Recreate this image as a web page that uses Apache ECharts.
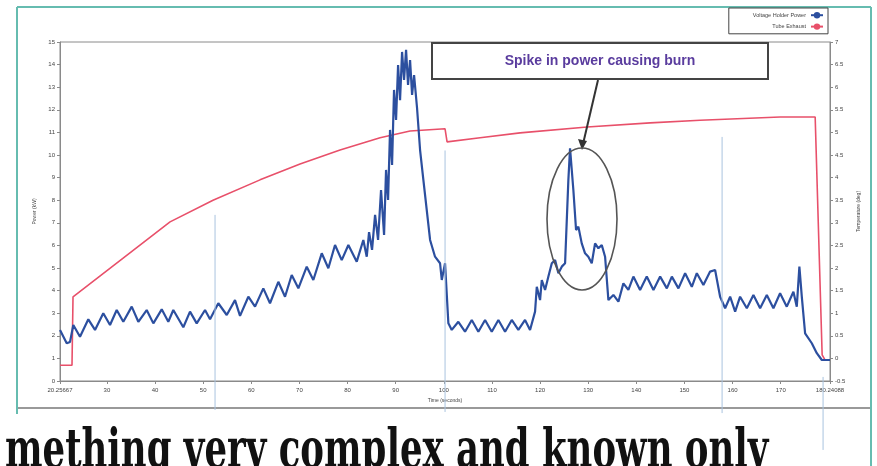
<!DOCTYPE html>
<html>
<head>
<meta charset="utf-8">
<script src="https://cdn.jsdelivr.net/npm/echarts@6/dist/echarts.min.js"></script>
<style>
  html, body { margin: 0; padding: 0; background: #fff; }
  #chart { width: 877px; height: 466px; }
</style>
</head>
<body>
<div id="chart"></div>
<script>
// time axis (seconds)
const xMin = 20.25667
const xMax = 180.24088
const xTicks = [20.25667, 30, 40, 50, 60, 70, 80, 90, 100, 110, 120, 130, 140, 150, 160, 170, 180.24088]

// power (kW), left axis
const powerTime = [
  20.26, 21.65, 22.34, 23.02, 24.41, 26.14, 27.53, 29.25, 30.65, 32.04, 33.41, 35.16, 36.53, 38.27, 39.65,
  41.39, 42.76, 43.80, 45.88, 47.27, 48.66, 50.39, 51.43, 53.15, 54.90, 56.62, 57.66, 59.39, 60.78,
  62.50, 63.89, 65.62, 67.01, 68.40, 69.78, 71.52, 72.89, 74.64, 76.01, 77.40, 78.79, 80.17, 81.91, 83.28, 83.99,
  84.47, 85.09, 85.72, 86.34, 86.96, 87.59, 88.00, 88.42, 88.83, 89.25, 89.66, 90.08, 90.50, 90.91,
  91.33, 91.74, 92.16, 92.57, 92.99, 93.41, 93.82, 94.44, 95.07, 95.76, 97.15, 98.18, 99.22, 99.58, 100.26, 100.95,
  101.65, 103.02, 104.41, 105.81, 107.18, 108.57, 109.96, 111.34, 112.73, 114.12, 115.49, 116.88, 117.92,
  118.96, 119.32, 120.00, 120.36, 121.04, 121.73, 122.44, 123.12, 123.81, 124.51, 125.20, 125.88, 126.23,
  126.92, 127.48, 127.96, 128.66, 129.35, 130.03, 130.74, 131.43, 132.12, 132.82, 133.51,
  134.20, 135.24, 136.28, 137.31, 138.35, 139.39, 140.78, 142.17, 143.56, 144.95, 146.34, 147.38, 148.75,
  150.14, 151.53, 152.57, 153.94, 155.33, 156.37, 157.41, 158.45, 159.49, 160.53, 161.56, 162.96, 164.33,
  165.72, 167.11, 168.48, 169.87, 171.26, 172.64, 173.34, 173.88, 174.38, 175.07, 176.46, 177.50, 178.54, 180.24
]
const powerKW = [
  2.26, 1.67, 1.73, 2.48, 1.96, 2.73, 2.26, 3.00, 2.48, 3.14, 2.62, 3.29, 2.62, 3.14, 2.55,
  3.17, 2.62, 3.14, 2.38, 3.07, 2.55, 3.14, 2.73, 3.44, 2.92, 3.58, 2.88, 3.73, 3.29,
  4.10, 3.44, 4.39, 3.73, 4.69, 4.10, 5.06, 4.47, 5.65, 4.99, 6.02, 5.35, 6.02, 5.28, 6.24, 5.50,
  6.59, 5.80, 7.35, 6.24, 8.45, 6.46, 9.34, 8.01, 11.11, 9.56, 12.88, 11.55, 13.98, 12.43,
  14.56, 13.32, 14.65, 13.10, 14.20, 12.66, 13.54, 12.08, 10.22, 8.89, 6.24, 5.50, 5.21, 4.47, 5.21, 2.55,
  2.26, 2.62, 2.18, 2.70, 2.18, 2.70, 2.18, 2.70, 2.18, 2.70, 2.26, 2.70, 2.26,
  3.07, 4.17, 3.58, 4.47, 4.03, 4.62, 5.21, 5.35, 4.77, 5.06, 5.21, 8.89, 10.30,
  8.45, 6.68, 6.83, 6.09, 5.65, 5.50, 5.21, 6.09, 5.87, 6.02, 5.50,
  3.58, 3.81, 3.51, 4.32, 4.03, 4.62, 4.03, 4.62, 4.03, 4.62, 4.10, 4.62, 4.10,
  4.77, 4.17, 4.77, 4.25, 4.84, 4.91, 3.73, 3.22, 3.73, 3.07, 3.73, 3.22, 3.81,
  3.22, 3.81, 3.22, 3.88, 3.29, 3.95, 3.29, 5.06, 3.73, 2.11, 1.67, 1.23, 0.93, 0.93
]

// exhaust temperature, right axis
const tempTime = [20.26, 22.75, 22.96, 43.12, 52.05, 61.82, 70.13, 78.44, 86.76, 92.99, 100.26, 100.68,
  107.54, 115.85, 129.78, 142.87, 153.26, 169.88, 177.16, 178.61, 179.23]
const tempVal = [-0.15, -0.15, 1.36, 3.02, 3.50, 3.95, 4.30, 4.61, 4.88, 5.03, 5.08, 4.79,
  4.88, 4.99, 5.12, 5.21, 5.27, 5.34, 5.34, 0.08, -0.04]

// light vertical marker lines: time, top (kW), bottom (kW)
const markerTime = [52.47, 100.26, 157.82, 178.80]
const markerTop = [7.35, 10.2, 10.8, 0.18]
const markerBottom = [-1.28, -1.37, -1.42, -3.05]

const chart = echarts.init(document.getElementById('chart'))
const axisGray = '#8a8a8a'
const tinyLabel = { fontSize: 6, color: '#444', fontFamily: 'Liberation Sans' }

chart.setOption({
  animation: false,
  backgroundColor: '#fff',
  grid: { left: 60, right: 47, top: 42, bottom: 85, show: true, borderColor: axisGray, borderWidth: 1 },
  legend: {
    orient: 'vertical', right: 49, top: 8, align: 'right',
    itemWidth: 12, itemHeight: 8, itemGap: 5, padding: [4, 4, 4, 24],
    borderColor: '#444', borderWidth: 1,
    textStyle: { fontSize: 5.5, color: '#444' },
    data: ['Voltage Holder Power', 'Tube Exhaust']
  },
  xAxis: {
    type: 'value', min: xMin, max: xMax,
    name: 'Time (seconds)', nameLocation: 'middle', nameGap: 16,
    nameTextStyle: { fontSize: 5, color: '#444' },
    axisLine: { lineStyle: { color: axisGray } },
    axisTick: { customValues: xTicks, length: 3, lineStyle: { color: axisGray } },
    axisLabel: { customValues: xTicks, margin: 6, ...tinyLabel, formatter: v => String(v) },
    splitLine: { show: false }
  },
  yAxis: [{
    type: 'value', min: 0, max: 15, interval: 1, position: 'left',
    name: 'Power (kW)', nameLocation: 'middle', nameGap: 17,
    nameTextStyle: { fontSize: 5, color: '#444' },
    axisLine: { show: true, lineStyle: { color: axisGray } },
    axisTick: { show: true, length: 3, lineStyle: { color: axisGray } },
    axisLabel: { margin: 5, ...tinyLabel },
    splitLine: { show: false }
  }, {
    type: 'value', min: -0.5, max: 7, interval: 0.5, position: 'right',
    name: 'Temperature (deg)', nameLocation: 'middle', nameGap: 18,
    nameTextStyle: { fontSize: 5, color: '#444' },
    axisLine: { show: true, lineStyle: { color: axisGray } },
    axisTick: { show: true, length: 3, lineStyle: { color: axisGray } },
    axisLabel: { margin: 5, ...tinyLabel },
    splitLine: { show: false }
  }],
  series: [{
    name: 'Tube Exhaust', type: 'line', yAxisIndex: 1, symbol: 'none',
    lineStyle: { color: '#e8506a', width: 1.6 }, itemStyle: { color: '#e8506a' },
    data: tempTime.map((t, i) => [t, tempVal[i]])
  }, {
    name: 'Voltage Holder Power', type: 'line', yAxisIndex: 0, symbol: 'none',
    lineStyle: { color: '#2c4f9f', width: 2.2 }, itemStyle: { color: '#2c4f9f' },
    data: powerTime.map((t, i) => [t, powerKW[i]])
  }],
  graphic: [
    // outer frame
    { type: 'line', shape: { x1: 17, y1: 7, x2: 871, y2: 7 }, style: { stroke: '#66bcb0', lineWidth: 2 } },
    { type: 'line', shape: { x1: 17, y1: 7, x2: 17, y2: 414 }, style: { stroke: '#66bcb0', lineWidth: 2 } },
    { type: 'line', shape: { x1: 871, y1: 7, x2: 871, y2: 466 }, style: { stroke: '#66bcb0', lineWidth: 2 } },
    { type: 'line', shape: { x1: 18, y1: 408, x2: 870, y2: 408 }, style: { stroke: '#777', lineWidth: 1.5 } },
    // annotation
    { type: 'rect', shape: { x: 432, y: 43, width: 336, height: 36 }, style: { fill: '#fff', stroke: '#444', lineWidth: 2 }, z: 10 },
    { type: 'text', x: 600, y: 61, z: 11, style: { text: 'Spike in power causing burn', fill: '#5a3c9e', font: 'bold 14px "Liberation Sans"', align: 'center', verticalAlign: 'middle' } },
    { type: 'line', shape: { x1: 598, y1: 80, x2: 583, y2: 144 }, style: { stroke: '#333', lineWidth: 2 }, z: 10 },
    { type: 'polygon', shape: { points: [[582, 150], [578, 139], [587, 141]] }, style: { fill: '#333' }, z: 10 },
    { type: 'ellipse', shape: { cx: 582, cy: 219, rx: 35, ry: 71 }, style: { fill: 'none', stroke: '#555', lineWidth: 1.6 }, z: 10 },
    // caption cut off at the bottom
    { type: 'text', x: 5, y: 426, scaleY: 1.5, style: { text: 'mething very complex and known only', fill: '#111', font: 'bold 35.5px "DejaVu Serif"', verticalAlign: 'top' } }
  ]
})

// light blue marker lines placed through the axes' own scales
const markerLines = markerTime.map((t, i) => {
  const top = chart.convertToPixel({ gridIndex: 0 }, [t, markerTop[i]])
  const bottom = chart.convertToPixel({ gridIndex: 0 }, [t, markerBottom[i]])
  return {
    type: 'line', id: 'marker' + i, z: 5,
    shape: { x1: top[0], y1: top[1], x2: bottom[0], y2: bottom[1] },
    style: { stroke: '#a9c3df', lineWidth: 1 }
  }
})
chart.setOption({ graphic: markerLines })
</script>
</body>
</html>
